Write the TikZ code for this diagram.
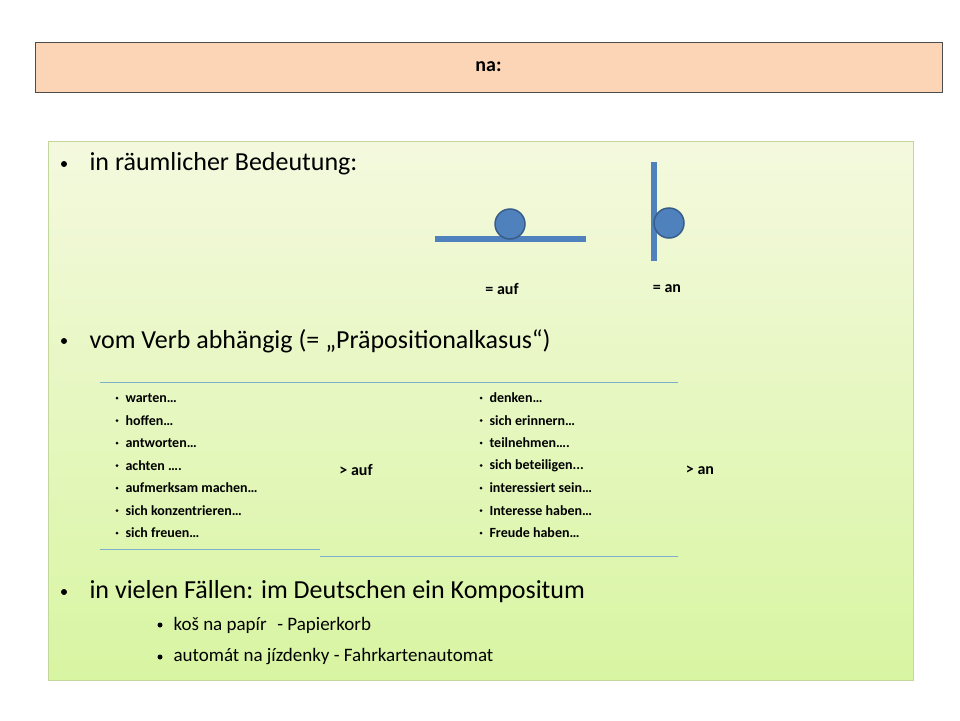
\documentclass[tikz,border=0pt]{standalone}
\usepackage{fontspec}
\setmainfont{Carlito}
\usetikzlibrary{positioning}

\definecolor{titlefill}{HTML}{FBD5B5}
\definecolor{boxtop}{HTML}{F4F9DE}
\definecolor{boxbottom}{HTML}{D8F5A2}
\definecolor{boxline}{HTML}{C3D69B}
\definecolor{figblue}{HTML}{4F81BD}
\definecolor{figdark}{HTML}{385D8A}
\definecolor{rule}{HTML}{7FAFC8}

\tikzset{
  big/.style={anchor=west, font=\fontsize{26}{30}\selectfont},
  small/.style={anchor=west, font=\fontsize{19}{22}\selectfont},
  tiny/.style={anchor=west, font=\bfseries\fontsize{14}{16}\selectfont},
  dot/.style={circle, fill=black, inner sep=0pt, minimum size=#1},
  ball/.style={circle, fill=figblue, draw=figdark, line width=1.5pt, minimum size=30pt, inner sep=0pt},
  bar/.style={figblue, line width=6pt},
  sep/.style={rule, line width=0.8pt}
}

\begin{document}
\begin{tikzpicture}[x=1pt,y=-1pt]
  \useasboundingbox (0,0) rectangle (960,720);
  % header
  \node[draw=black!70, fill=titlefill, minimum width=907pt, minimum height=50pt, inner sep=0pt,
        font=\bfseries\fontsize{20}{24}\selectfont] (title) at (488.5,67) {na:};
  % main box
  \shade[top color=boxtop, bottom color=boxbottom, draw=boxline, line width=1pt] (48,141) rectangle (913,680);

  % bullets
  \node[dot=6pt] (b1) at (64,164) {};
  \node[big] (t1) at (86,164) {in räumlicher Bedeutung:};
  \node[dot=6pt] (b2) at (64,341) {};
  \node[big] (t2) at (86,341) {vom Verb abhängig (= „Präpositionalkasus“)};
  \node[dot=6pt] (b3) at (64,592) {};
  \node[big] (t3) at (86,592) {in vielen Fällen: im Deutschen ein Kompositum};
  \node[dot=5pt] (s1) at (160,625) {};
  \node[small] (u1) at (170,625) {koš na papír\,\, - Papierkorb};
  \node[dot=5pt] (s2) at (160,657) {};
  \node[small] (u2) at (170,657) {automát na jízdenky - Fahrkartenautomat};

  % figures
  \coordinate (aufL) at (435,239);
  \coordinate (aufR) at (586,239);
  \draw[bar] (aufL) -- (aufR);
  \node[ball] (ballauf) at (510,224) {};
  \coordinate (anT) at (654,162);
  \coordinate (anB) at (654,261);
  \draw[bar] (anT) -- (anB);
  \node[ball] (ballan) at (669,223) {};
  \node[font=\bfseries\fontsize{16}{19}\selectfont] (lauf) at (502,289) {= auf};
  \node[font=\bfseries\fontsize{16}{19}\selectfont] (lan) at (667,289) {= an};

  % table rules
  \coordinate (r1) at (100,382); \coordinate (r2) at (678,382);
  \coordinate (r3) at (100,549); \coordinate (r4) at (320,549);
  \coordinate (r5) at (320,556); \coordinate (r6) at (678,556);
  \draw[sep] (r1) -- (r2);
  \draw[sep] (r3) -- (r4);
  \draw[sep] (r5) -- (r6);

  % verb lists
  \foreach \w [count=\i] in {{warten…}, {hoffen…}, {antworten…}, {achten ….}, {aufmerksam machen…}, {sich konzentrieren…}, {sich freuen…}}{
    \node[dot=3pt] (lb\i) at (117,{398+22.5*(\i-1)}) {};
    \node[tiny] (lw\i) at (122,{398+22.5*(\i-1)}) {\w};
  }
  \foreach \w [count=\i] in {{denken…}, {sich erinnern…}, {teilnehmen….}, {sich beteiligen.{}.{}.}, {interessiert sein…}, {Interesse haben…}, {Freude haben…}}{
    \node[dot=3pt] (rb\i) at (481,{398+22.5*(\i-1)}) {};
    \node[tiny] (rw\i) at (486,{398+22.5*(\i-1)}) {\w};
  }
  \node[font=\bfseries\fontsize{16}{19}\selectfont] (gauf) at (356,470) {> auf};
  \node[font=\bfseries\fontsize{16}{19}\selectfont] (gan) at (700,470) {> an};
\end{tikzpicture}
\end{document}
